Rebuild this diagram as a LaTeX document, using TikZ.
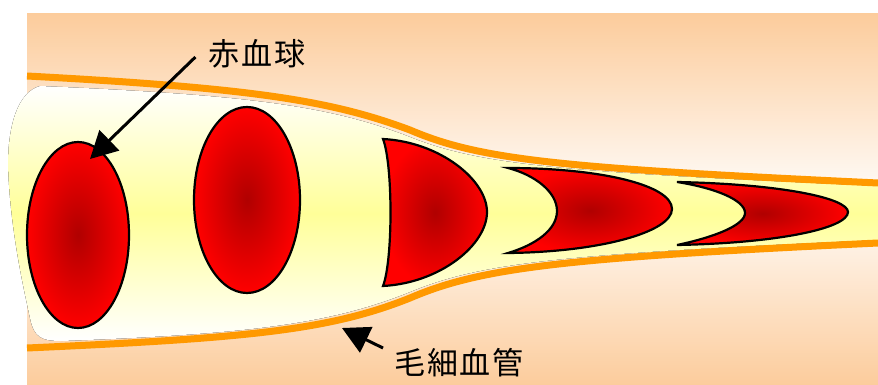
\documentclass[tikz,border=0pt]{standalone}
\usepackage{fontspec}
\newfontfamily\jpfont[LetterSpace=6]{Noto Sans CJK JP}
\usetikzlibrary{arrows.meta,shapes.geometric}
\definecolor{peach}{RGB}{252,204,156}
\definecolor{plasma}{RGB}{255,255,153}
\definecolor{wall}{RGB}{255,153,0}
\definecolor{cellcore}{RGB}{176,0,0}
\definecolor{cellrim}{RGB}{255,0,0}

\begin{document}
\begin{tikzpicture}[x=1pt,y=-1pt,
  wallline/.style={draw=wall,line width=7pt},
  cell/.style={draw=black,line width=2.2pt,inner color=cellcore,outer color=cellrim},
  disc/.style={cell,ellipse,inner sep=0pt},
  label/.style={font=\jpfont\fontsize{31}{31}\selectfont,inner sep=0pt},
  pointer/.style={draw=black,line width=3pt,-{Triangle[length=27pt,width=28pt]}}]

\useasboundingbox (0,0) rectangle (878,385);

% tissue background: peach at top and bottom, pale in the middle
\fill[top color=peach,bottom color=peach,middle color=white!96!peach] (27,14) rectangle (878,385);

% blood plasma inside the vessel
\fill[top color=white,bottom color=white,middle color=plasma]
  (878,186) .. controls (560,172) and (480,165) .. (410,137)
  .. controls (330,106) and (250,95) .. (40,86)
  .. controls (18,92) and (8,125) .. (8,165)
  .. controls (10,230) and (24,290) .. (30,318)
  .. controls (34,338) and (42,341) .. (62,341)
  .. controls (250,334) and (330,324) .. (410,292)
  .. controls (480,263) and (560,254) .. (878,240) -- cycle;

% vessel walls
\draw[wallline] (27,76) .. controls (250,88) and (330,100) .. (410,130)
  .. controls (480,160) and (560,168) .. (878,183);
\draw[wallline] (27,348) .. controls (250,338) and (330,330) .. (410,298)
  .. controls (480,268) and (560,258) .. (878,243);

% red blood cells, deforming as the vessel narrows
\node[disc,minimum width=102pt,minimum height=186pt] (c1) at (78,235) {};
\node[disc,minimum width=106pt,minimum height=186pt] (c2) at (247,200) {};
\path[cell] (383,139) .. controls (440,142) and (487,180) .. (487,212)
  .. controls (487,245) and (440,283) .. (383,286)
  .. controls (393,260) and (393,165) .. cycle;
\path[cell] (508,168) .. controls (600,168) and (672,185) .. (672,209)
  .. controls (672,232) and (600,252) .. (508,253)
  .. controls (535,245) and (557,230) .. (557,211)
  .. controls (557,192) and (535,175) .. cycle;
\path[cell] (677,182) .. controls (780,184) and (848,198) .. (848,212)
  .. controls (848,228) and (780,243) .. (677,245)
  .. controls (715,237) and (745,225) .. (745,213)
  .. controls (745,200) and (715,188) .. cycle;

% labels
\node[label] (rbc) at (257,54) {赤血球};
\node[label] (cap) at (459,363) {毛細血管};
\coordinate (rbctip) at (90,159);
\coordinate (captip) at (342,328);

\draw[pointer] ([shift={(-13,3)}]rbc.west) -- (rbctip);
\draw[pointer] ([shift={(-11,-15)}]cap.west) -- (captip);
\end{tikzpicture}
\end{document}
